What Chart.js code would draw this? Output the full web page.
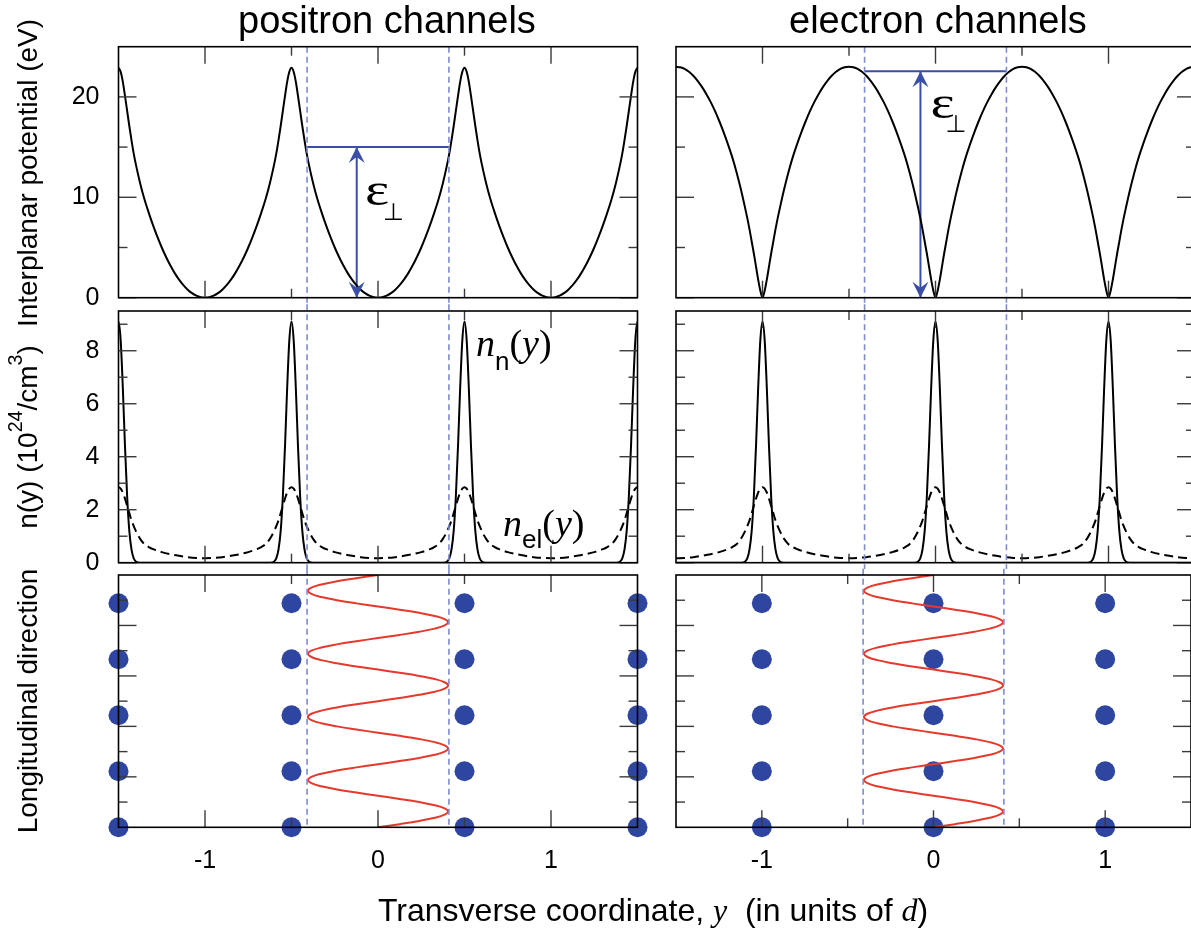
<!DOCTYPE html>
<html><head><meta charset="utf-8">
<script src="https://cdn.jsdelivr.net/npm/chart.js@4.4.1/dist/chart.umd.min.js"></script>
<style>
html,body{margin:0;padding:0;background:#fff;overflow:hidden}
#wrap{position:relative;width:1191px;height:930px;overflow:hidden;background:#fff}
.pane{position:absolute}
.pane canvas{display:block}
.t{position:absolute;white-space:nowrap;font-family:"Liberation Sans",Arial,sans-serif;color:#000;line-height:1;z-index:5}
.rot{transform:translate(-50%,-50%) rotate(-90deg)}
.serif{font-family:"Liberation Serif","Times New Roman",serif;font-style:italic}
.sup{font-size:0.7em;position:relative;top:-15px}
</style></head>
<body><div id="wrap">
<div class="t" style="left:238px;top:1px;font-size:38px">positron channels</div>
<div class="t" style="left:789px;top:1px;font-size:38px">electron channels</div>
<div class="t rot" style="left:28.3px;top:172.5px;font-size:28px">Interplanar potential (eV)</div>
<div class="t rot" style="left:28.3px;top:437px;font-size:28px">n(y) (10<span class="sup">24</span>/cm<span class="sup">3</span>)</div>
<div class="t rot" style="left:28.3px;top:701px;font-size:28px">Longitudinal direction</div>
<div class="t" style="left:378px;top:894px;font-size:32px">Transverse coordinate, <span class="serif">y</span>&nbsp; (in units of <span class="serif">d</span>)</div>
</div>
<script>
// ---------------- data ----------------
const xTickLabels = [-1, 0, 1];
const xMajorTicks = [-1, 0, 1];
const xMinorTicks = [-0.5, 0.5];
const potTickLabels = [0, 10, 20];
const potMajorTicks = [0, 10, 20];
const potMinorTicks = [5, 15];
const densTickLabels = [0, 2, 4, 6, 8];
const densMajorTicks = [0, 2, 4, 6, 8];
const densMinorTicks = [1, 3, 5, 7, 9];
const longMajorTicks = [2, 4, 6, 8];
const longMinorTicks = [1, 3, 5, 7, 9];

// atomic planes
const positronPlanes = [-1.5, -0.5, 0.5, 1.5];
const electronPlanes = [-1, 0, 1];
const positronCentres = [-1, 0, 1];

// positron potential vs distance from channel centre (eV)
const posPotDist = [0, 0.025, 0.05, 0.075, 0.1, 0.125, 0.15, 0.175, 0.2, 0.225, 0.25, 0.275, 0.3, 0.325, 0.35, 0.375, 0.4, 0.4125, 0.425, 0.4375, 0.45, 0.4625, 0.475, 0.4875, 0.5];
const posPotU    = [0, 0.05, 0.2, 0.45, 0.8, 1.25, 1.8, 2.45, 3.2, 4.05, 5.0, 6.05, 7.2, 8.45, 9.8, 11.4, 13.3, 14.4, 15.7, 17.1, 18.6, 20.1, 21.5, 22.5, 22.9];
// electron potential vs distance from plane (eV)
const elPotDist = [0, 0.0125, 0.025, 0.0375, 0.05, 0.0625, 0.075, 0.0875, 0.1, 0.125, 0.15, 0.175, 0.2, 0.225, 0.25, 0.275, 0.3, 0.325, 0.35, 0.375, 0.4, 0.425, 0.45, 0.475, 0.5];
const elPotU    = [0, 0.7, 1.8, 3.1, 4.4, 5.6, 6.8, 7.9, 8.9, 10.8, 12.5, 14.0, 15.3, 16.5, 17.6, 18.6, 19.5, 20.3, 21.0, 21.6, 22.1, 22.5, 22.8, 22.95, 23.0];
// nuclear density n_n vs distance from plane (10^24/cm^3)
const nucDist = [0, 0.0125, 0.025, 0.0375, 0.05, 0.0625, 0.075, 0.0875, 0.1, 0.1125, 0.125, 0.2, 0.3, 0.4, 0.5];
const nucDens = [9.1, 8.4, 6.6, 4.4, 2.5, 1.2, 0.5, 0.17, 0.05, 0.01, 0, 0, 0, 0, 0];
// electron density n_el vs distance from plane
const elDist = [0, 0.0125, 0.025, 0.0375, 0.05, 0.0625, 0.075, 0.1, 0.125, 0.15, 0.175, 0.2, 0.25, 0.3, 0.35, 0.4, 0.45, 0.5];
const elDens = [2.85, 2.8, 2.65, 2.42, 2.15, 1.87, 1.6, 1.2, 0.9, 0.7, 0.59, 0.51, 0.4, 0.32, 0.26, 0.21, 0.18, 0.17];

// channeling trajectory: longitudinal coordinate and transverse position
const trajZ = [0,0.125,0.25,0.375,0.5,0.625,0.75,0.875,1,1.125,1.25,1.375,1.5,1.625,1.75,1.875,2,2.125,2.25,2.375,2.5,2.625,2.75,2.875,3,3.125,3.25,3.375,3.5,3.625,3.75,3.875,4,4.125,4.25,4.375,4.5,4.625,4.75,4.875,5,5.125,5.25,5.375,5.5,5.625,5.75,5.875,6,6.125,6.25,6.375,6.5,6.625,6.75,6.875,7,7.125,7.25,7.375,7.5,7.625,7.75,7.875,8,8.125,8.25,8.375,8.5,8.625,8.75,8.875,9,9.125,9.25,9.375,9.5,9.625,9.75,9.875,10];
const posTrajY = [0,0.125,0.238,0.328,0.385,0.405,0.385,0.328,0.238,0.125,0,-0.125,-0.238,-0.328,-0.385,-0.405,-0.385,-0.328,-0.238,-0.125,
                  0,0.125,0.238,0.328,0.385,0.405,0.385,0.328,0.238,0.125,0,-0.125,-0.238,-0.328,-0.385,-0.405,-0.385,-0.328,-0.238,-0.125,
                  0,0.125,0.238,0.328,0.385,0.405,0.385,0.328,0.238,0.125,0,-0.125,-0.238,-0.328,-0.385,-0.405,-0.385,-0.328,-0.238,-0.125,
                  0,0.125,0.238,0.328,0.385,0.405,0.385,0.328,0.238,0.125,0,-0.125,-0.238,-0.328,-0.385,-0.405,-0.385,-0.328,-0.238,-0.125,0];
const elTrajY  = [0,0.125,0.238,0.328,0.385,0.405,0.385,0.328,0.238,0.125,0,-0.125,-0.238,-0.328,-0.385,-0.405,-0.385,-0.328,-0.238,-0.125,
                  0,0.125,0.238,0.328,0.385,0.405,0.385,0.328,0.238,0.125,0,-0.125,-0.238,-0.328,-0.385,-0.405,-0.385,-0.328,-0.238,-0.125,
                  0,0.125,0.238,0.328,0.385,0.405,0.385,0.328,0.238,0.125,0,-0.125,-0.238,-0.328,-0.385,-0.405,-0.385,-0.328,-0.238,-0.125,
                  0,0.125,0.238,0.328,0.385,0.405,0.385,0.328,0.238,0.125,0,-0.125,-0.238,-0.328,-0.385,-0.405,-0.385,-0.328,-0.238,-0.125,0];
// atom rows along the longitudinal direction
const atomRows = [0, 2.22, 4.44, 6.66, 8.88];

// channel boundaries and transverse energy
const posEdges = [-0.41, 0.41];
const elEdges = [-0.41, 0.41];
const posEperp = 15;
const elEperp = 22.56;
const posArrowX = -0.123;
const elArrowX = -0.087;

// ---------------- helpers ----------------
const FONT = "'Liberation Sans', Arial, sans-serif";
const BLUE = '#3a4ea6';
function profile(centres, dist, vals) {
  const pts = [];
  centres.forEach(c => {
    for (let i = dist.length - 1; i > 0; i--) pts.push({x: c - dist[i], y: vals[i]});
    for (let i = 0; i < dist.length; i++) pts.push({x: c + dist[i], y: vals[i]});
  });
  pts.sort((a, b) => a.x - b.x);
  const out = [];
  pts.forEach(p => { if (!out.length || Math.abs(p.x - out[out.length - 1].x) > 1e-9) out.push(p); });
  return out;
}
function traj(zs, ys) { return zs.map((z, i) => ({x: ys[i], y: z})); }
function atoms(planes) { const a = []; planes.forEach(p => atomRows.forEach(r => a.push({x: p, y: r}))); return a; }

const COLS = {L: {left: 0, width: 656, yW: 118.5, padR: 18.5}, R: {left: 656, width: 545, yW: 20, padR: 6}};
const ROWS = [
  {top: 0, height: 320, padT: 46.7, xH: 22.3, extT: 0, extB: 6.7},
  {top: 290, height: 290, padT: 21, xH: 17.3, extT: 6.7, extB: 6.2},
  {top: 560, height: 370, padT: 15, xH: 102.7, extT: 6.2, extB: 0}
];

function deco(cfg, r) {
  return {
    id: 'deco',
    afterDatasetsDraw(chart) {
      const {ctx, chartArea: a, scales: {x, y}} = chart;
      ctx.save();
      // dashed channel boundaries
      ctx.strokeStyle = '#7b8cd0'; ctx.lineWidth = 1.6; ctx.setLineDash([6, 4]);
      cfg.edges.forEach(v => {
        const p = x.getPixelForValue(v);
        ctx.beginPath(); ctx.moveTo(p, a.top - r.extT); ctx.lineTo(p, a.bottom + r.extB); ctx.stroke();
      });
      ctx.setLineDash([]);
      // arrow heads
      ctx.fillStyle = BLUE;
      (cfg.arrows || []).forEach(ar => {
        const px = x.getPixelForValue(ar.x);
        [[y.getPixelForValue(ar.y0), -1], [y.getPixelForValue(ar.y1), 1]].forEach(([py, s]) => {
          ctx.beginPath();
          ctx.moveTo(px, py);
          ctx.lineTo(px - 8, py + 16 * s);
          ctx.lineTo(px, py + 10 * s);
          ctx.lineTo(px + 8, py + 16 * s);
          ctx.closePath(); ctx.fill();
        });
      });
      // inward ticks on all four sides
      ctx.strokeStyle = '#3a3a3a'; ctx.lineWidth = 1.4;
      const seg = (x1, y1, x2, y2) => { ctx.beginPath(); ctx.moveTo(x1, y1); ctx.lineTo(x2, y2); ctx.stroke(); };
      const xt = (vals, len) => vals.forEach(v => { const p = x.getPixelForValue(v); seg(p, a.bottom, p, a.bottom - len); seg(p, a.top, p, a.top + len); });
      const yt = (vals, len) => vals.forEach(v => { const p = y.getPixelForValue(v); seg(a.left, p, a.left + len, p); seg(a.right, p, a.right - len, p); });
      xt(xMajorTicks, 17); xt(xMinorTicks, 9);
      yt(cfg.yMajor, 18); yt(cfg.yMinor, 9);
      // frame
      ctx.strokeStyle = '#000'; ctx.lineWidth = 1.6;
      ctx.strokeRect(a.left, a.top, a.right - a.left, a.bottom - a.top);
      // in-plot labels
      ctx.fillStyle = '#000'; ctx.textAlign = 'left'; ctx.textBaseline = 'alphabetic';
      (cfg.texts || []).forEach(tx => {
        let px = x.getPixelForValue(tx.x);
        const py = y.getPixelForValue(tx.y);
        tx.parts.forEach(p => {
          ctx.font = p.font;
          const sx = p.sx || 1;
          ctx.save(); ctx.translate(px, py + (p.dy || 0)); ctx.scale(sx, 1); ctx.fillText(p.t, 0, 0); ctx.restore();
          px += ctx.measureText(p.t).width * sx;
        });
      });
      ctx.restore();
    }
  };
}

function panel(col, row, cfg) {
  const c = COLS[col], r = ROWS[row];
  const div = document.createElement('div');
  div.className = 'pane';
  div.style.left = c.left + 'px'; div.style.top = r.top + 'px';
  const cv = document.createElement('canvas');
  cv.width = c.width; cv.height = r.height;
  cv.style.width = c.width + 'px'; cv.style.height = r.height + 'px';
  div.appendChild(cv);
  document.getElementById('wrap').appendChild(div);
  new Chart(cv, {
    type: 'line',
    data: {datasets: cfg.datasets},
    options: {
      responsive: false, animation: false, events: [],
      layout: {padding: {left: 0, right: c.padR, top: r.padT, bottom: 0}},
      plugins: {legend: {display: false}, tooltip: {enabled: false}},
      elements: {point: {radius: 0}, line: {borderJoinStyle: 'round'}},
      scales: {
        x: {
          type: 'linear', min: -1.5, max: 1.5, position: 'bottom',
          grid: {display: false, drawTicks: false}, border: {display: false},
          ticks: {display: row === 2, stepSize: 0.5, autoSkip: false, maxRotation: 0, minRotation: 0, padding: 19,
                  color: '#000', font: {family: FONT, size: 25},
                  callback: v => xTickLabels.includes(v) ? String(v) : ''},
          afterFit: s => { s.height = r.xH; s.paddingLeft = 0; s.paddingRight = 0; }
        },
        y: {
          type: 'linear', min: cfg.yMin, max: cfg.yMax, position: 'left',
          grid: {display: false, drawTicks: false}, border: {display: false},
          ticks: {display: col === 'L' && !!cfg.yLabels, stepSize: cfg.yStep, autoSkip: false, padding: 19,
                  color: '#000', font: {family: FONT, size: 25},
                  callback: v => (cfg.yLabels && cfg.yLabels.includes(v)) ? String(v) : ''},
          afterFit: s => { s.width = c.yW; s.paddingTop = 0; s.paddingBottom = 0; }
        }
      }
    },
    plugins: [deco(cfg, r)]
  });
}

const black = (data, dash) => ({data, borderColor: '#000', borderWidth: 2, cubicInterpolationMode: 'monotone', borderDash: dash || []});
const blueLine = data => ({data, borderColor: BLUE, borderWidth: 2});
const redLine = data => ({data, borderColor: '#e5392c', borderWidth: 2, tension: 0.4});
const dots = data => ({data, showLine: false, pointRadius: 10, pointBackgroundColor: '#2f46a0', pointBorderWidth: 0, clip: false});

const SERIF_I = "italic 38px 'Liberation Serif', 'Times New Roman', serif";
const SERIF = "38px 'Liberation Serif', 'Times New Roman', serif";
const SUB = "26px 'Liberation Sans', Arial, sans-serif";
const EPS = "46px 'Liberation Serif', 'Times New Roman', serif";
const PERP = "24px 'DejaVu Sans', sans-serif";

// ---- top row: potentials ----
panel('L', 0, {
  yMin: 0, yMax: 25, yStep: 5, yLabels: potTickLabels, yMajor: potMajorTicks, yMinor: potMinorTicks,
  edges: posEdges,
  arrows: [{x: posArrowX, y0: 0, y1: posEperp}],
  texts: [{x: -0.075, y: 9.25, parts: [{t: 'ε', font: EPS, sx: 1.25}]},
          {x: 0.029, y: 7.76, parts: [{t: '⊥', font: PERP}]}],
  datasets: [
    black(profile(positronCentres, posPotDist, posPotU)),
    blueLine([{x: posEdges[0], y: posEperp}, {x: posEdges[1], y: posEperp}]),
    blueLine([{x: posArrowX, y: 0}, {x: posArrowX, y: posEperp}])
  ]
});
panel('R', 0, {
  yMin: 0, yMax: 25, yStep: 5, yLabels: null, yMajor: potMajorTicks, yMinor: potMinorTicks,
  edges: elEdges,
  arrows: [{x: elArrowX, y0: 0, y1: elEperp}],
  texts: [{x: -0.029, y: 17.9, parts: [{t: 'ε', font: EPS, sx: 1.25}]},
          {x: 0.058, y: 16.5, parts: [{t: '⊥', font: PERP}]}],
  datasets: [
    black(profile(electronPlanes, elPotDist, elPotU)),
    blueLine([{x: elEdges[0], y: elEperp}, {x: elEdges[1], y: elEperp}]),
    blueLine([{x: elArrowX, y: 0}, {x: elArrowX, y: elEperp}])
  ]
});
// ---- middle row: densities ----
panel('L', 1, {
  yMin: 0, yMax: 9.5, yStep: 1, yLabels: densTickLabels, yMajor: densMajorTicks, yMinor: densMinorTicks,
  edges: posEdges,
  texts: [
    {x: 0.566, y: 7.8, parts: [{t: 'n', font: SERIF_I}, {t: 'n', font: SUB, dy: 14}, {t: '(', font: SERIF}, {t: 'y', font: SERIF_I}, {t: ')', font: SERIF}]},
    {x: 0.723, y: 0.99, parts: [{t: 'n', font: SERIF_I}, {t: 'el', font: SUB, dy: 12}, {t: '(', font: SERIF}, {t: 'y', font: SERIF_I}, {t: ')', font: SERIF}]}
  ],
  datasets: [
    black(profile(positronPlanes, nucDist, nucDens)),
    black(profile(positronPlanes, elDist, elDens), [9, 5])
  ]
});
panel('R', 1, {
  yMin: 0, yMax: 9.5, yStep: 1, yLabels: null, yMajor: densMajorTicks, yMinor: densMinorTicks,
  edges: elEdges,
  datasets: [
    black(profile(electronPlanes, nucDist, nucDens)),
    black(profile(electronPlanes, elDist, elDens), [9, 5])
  ]
});
// ---- bottom row: trajectories ----
panel('L', 2, {
  yMin: 0, yMax: 10, yStep: 1, yLabels: null, yMajor: longMajorTicks, yMinor: longMinorTicks,
  edges: posEdges,
  datasets: [redLine(traj(trajZ, posTrajY)), dots(atoms(positronPlanes))]
});
panel('R', 2, {
  yMin: 0, yMax: 10, yStep: 1, yLabels: null, yMajor: longMajorTicks, yMinor: longMinorTicks,
  edges: elEdges,
  datasets: [redLine(traj(trajZ, elTrajY)), dots(atoms(electronPlanes))]
});
</script>
</body></html>
